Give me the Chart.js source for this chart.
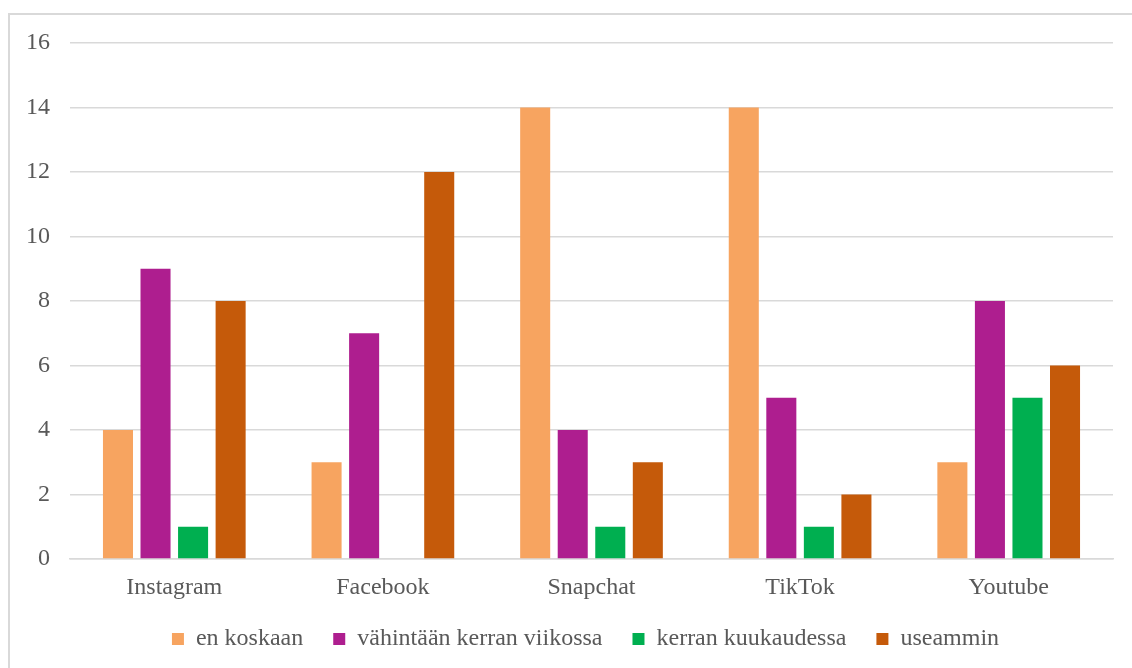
<!DOCTYPE html>
<html>
<head>
<meta charset="utf-8">
<script src="https://cdn.jsdelivr.net/npm/chart.js@4/dist/chart.umd.min.js"></script>
<style>
  html, body { margin: 0; padding: 0; background: #ffffff; }
  #wrap { position: relative; width: 1132px; height: 668px; overflow: hidden; }
  #frame { position: absolute; left: 8px; top: 13px; width: 1200px; height: 800px; border: 2px solid #d9d9d9; box-sizing: border-box; }
  canvas { position: absolute; left: 0; top: 0; }
</style>
</head>
<body>
<div id="wrap">
  <div id="frame"></div>
  <canvas id="c" width="1132" height="668"></canvas>
</div>
<script>
const categories = ["Instagram", "Facebook", "Snapchat", "TikTok", "Youtube"];
const seriesNames = ["en koskaan", "vähintään kerran viikossa", "kerran kuukaudessa", "useammin"];
const enKoskaan = [4, 3, 14, 14, 3];
const vahintaanViikossa = [9, 7, 4, 5, 8];
const kerranKuukaudessa = [1, 0, 1, 1, 5];
const useammin = [8, 12, 3, 2, 6];
const yTicks = [0, 2, 4, 6, 8, 10, 12, 14, 16];

const colors = ["#F7A460", "#AE1E8F", "#00AF50", "#C55A0A"];
const values = [enKoskaan, vahintaanViikossa, kerranKuukaudessa, useammin];
const FONT = "'Liberation Serif', 'Times New Roman', serif";
const TEXT = "#595959";

// let tick labels draw outside their (narrowed) scale boxes
Chart.Scale.prototype._computeLabelArea = function () { return undefined; };

new Chart(document.getElementById('c'), {
  type: 'bar',
  data: {
    labels: categories,
    datasets: seriesNames.map((n, i) => ({
      label: n,
      data: values[i],
      backgroundColor: colors[i],
      borderWidth: 0,
      barPercentage: 0.8,
      categoryPercentage: 0.72
    }))
  },
  options: {
    responsive: false,
    animation: false,
    devicePixelRatio: 1,
    layout: { padding: { left: 58, right: 19, top: 43, bottom: 7 } },
    plugins: {
      legend: {
        position: 'bottom',
        labels: {
          boxWidth: 12, boxHeight: 12, padding: 30,
          color: TEXT,
          font: { family: FONT, size: 24 }
        }
      },
      tooltip: { enabled: false }
    },
    scales: {
      x: {
        grid: { display: false, drawTicks: false },
        border: { display: true, color: '#d9d9d9', width: 1.5 },
        ticks: { color: TEXT, font: { family: FONT, size: 24 }, padding: 14 },
        afterFit: s => { s.height = 38; }
      },
      y: {
        min: 0, max: 16,
        afterBuildTicks: s => { s.ticks = yTicks.map(v => ({ value: v })); },
        grid: { color: '#d9d9d9', lineWidth: 1.5, drawTicks: false },
        border: { display: false },
        ticks: { color: TEXT, font: { family: FONT, size: 24 }, padding: 20 },
        afterFit: s => { s.width = 12; }
      }
    }
  }
});
</script>
</body>
</html>
